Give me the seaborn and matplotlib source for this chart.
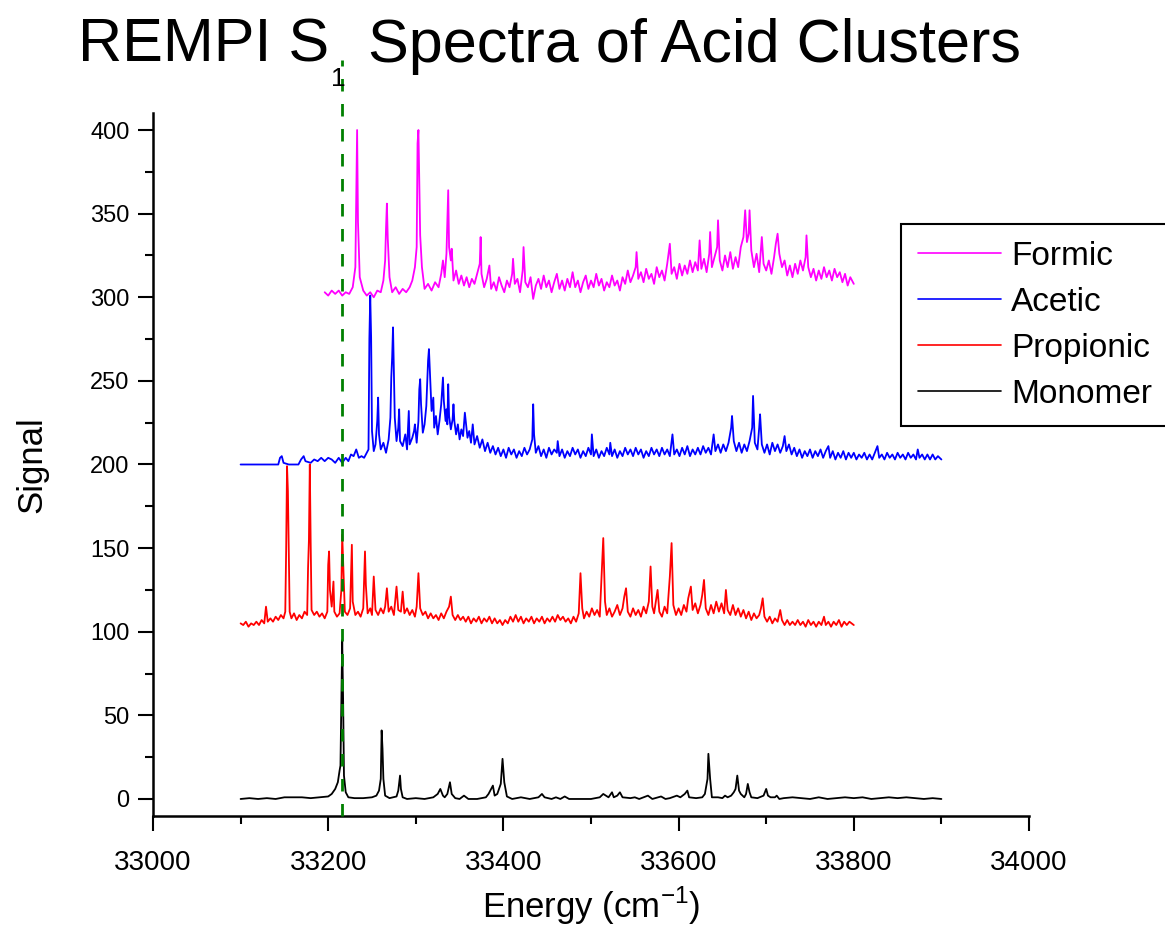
import numpy as np
import pandas as pd
import seaborn as sns
import matplotlib.pyplot as plt
from matplotlib.ticker import MultipleLocator

# REMPI S1 spectra (offset traces)
formic_x = [33196, 33200, 33204, 33208, 33212, 33216, 33220, 33224, 33228, 33231, 33232, 33233, 33234, 33236,
            33240, 33244, 33248, 33252, 33256, 33260, 33263, 33265, 33266, 33267, 33268, 33270, 33273, 33277,
            33281, 33285, 33289, 33293, 33296, 33299, 33301, 33302, 33303, 33304, 33305, 33307, 33310, 33314,
            33318, 33322, 33326, 33329, 33331, 33333, 33335, 33337, 33338, 33340, 33341, 33343, 33346, 33349,
            33352, 33355, 33358, 33361, 33364, 33367, 33370, 33373, 33374, 33375, 33378, 33381, 33384, 33386,
            33389, 33392, 33395, 33398, 33401, 33404, 33407, 33410, 33411, 33413, 33416, 33419, 33422, 33423,
            33425, 33428, 33431, 33434, 33437, 33440, 33443, 33446, 33449, 33452, 33455, 33458, 33461, 33464,
            33467, 33470, 33473, 33476, 33479, 33482, 33485, 33488, 33491, 33494, 33497, 33500, 33503, 33506,
            33509, 33512, 33515, 33518, 33521, 33524, 33527, 33530, 33533, 33536, 33539, 33542, 33545, 33548,
            33551, 33552, 33554, 33557, 33560, 33563, 33566, 33569, 33572, 33575, 33578, 33581, 33584, 33587,
            33590, 33592, 33595, 33598, 33601, 33604, 33607, 33610, 33613, 33616, 33619, 33622, 33624, 33626,
            33629, 33632, 33635, 33636, 33638, 33641, 33644, 33645, 33647, 33650, 33653, 33656, 33659, 33662,
            33665, 33668, 33671, 33674, 33676, 33678, 33680, 33681, 33683, 33686, 33689, 33692, 33695, 33697,
            33700, 33703, 33706, 33709, 33711, 33713, 33715, 33718, 33721, 33724, 33727, 33730, 33733, 33736,
            33739, 33742, 33745, 33746, 33748, 33751, 33754, 33757, 33760, 33763, 33766, 33769, 33772, 33775,
            33778, 33781, 33784, 33787, 33790, 33793, 33796, 33800]
formic_y = [303, 301, 304, 302, 304, 301, 303, 302, 306, 318, 360, 400, 345, 312,
            304, 301, 303, 300, 304, 303, 310, 322, 341, 356, 335, 312, 303, 306,
            302, 305, 303, 306, 310, 318, 330, 392, 400, 370, 337, 318, 305, 308,
            304, 309, 306, 314, 322, 312, 326, 364, 330, 322, 329, 310, 316, 308,
            313, 307, 312, 306, 311, 308, 314, 320, 336, 314, 306, 311, 319, 305,
            309, 304, 312, 307, 303, 310, 306, 314, 323, 308, 311, 303, 316, 330,
            309, 306, 312, 299, 307, 311, 305, 313, 306, 310, 303, 309, 314, 305,
            310, 304, 311, 306, 315, 306, 310, 303, 309, 313, 305, 310, 306, 314,
            307, 311, 304, 309, 306, 313, 307, 310, 304, 312, 308, 316, 309, 313,
            318, 327, 311, 315, 309, 317, 311, 314, 308, 318, 312, 316, 310, 320,
            332, 314, 318, 311, 320, 313, 319, 314, 322, 315, 321, 316, 334, 317,
            323, 315, 326, 339, 318, 324, 330, 346, 322, 316, 325, 318, 327, 317,
            324, 318, 330, 336, 352, 333, 338, 352, 328, 318, 326, 315, 336, 320,
            316, 322, 314, 324, 332, 338, 326, 318, 322, 313, 319, 312, 320, 314,
            322, 316, 324, 337, 318, 312, 317, 310, 316, 311, 318, 312, 316, 310,
            317, 312, 315, 309, 314, 307, 312, 308]

acetic_x = [33100, 33143, 33145, 33147, 33149, 33155, 33166, 33169, 33172, 33174, 33180, 33184, 33188, 33192,
            33196, 33200, 33204, 33208, 33212, 33216, 33220, 33223, 33226, 33229, 33232, 33235, 33238, 33241,
            33244, 33246, 33247, 33248, 33249, 33250, 33252, 33254, 33256, 33257, 33258, 33260, 33263, 33266,
            33269, 33271, 33272, 33273, 33274, 33275, 33276, 33278, 33280, 33281, 33282, 33285, 33288, 33290,
            33292, 33293, 33296, 33298, 33299, 33301, 33303, 33304, 33305, 33306, 33308, 33310, 33312, 33313,
            33314, 33315, 33316, 33318, 33320, 33321, 33323, 33325, 33327, 33329, 33330, 33331, 33332, 33334,
            33335, 33336, 33337, 33338, 33340, 33342, 33343, 33344, 33346, 33348, 33350, 33352, 33354, 33356,
            33357, 33359, 33361, 33363, 33365, 33367, 33370, 33373, 33376, 33379, 33382, 33385, 33388, 33391,
            33394, 33397, 33400, 33403, 33406, 33409, 33412, 33415, 33418, 33421, 33424, 33427, 33430, 33433,
            33434, 33435, 33437, 33440, 33443, 33446, 33449, 33452, 33455, 33458, 33461, 33462, 33464, 33467,
            33470, 33473, 33476, 33479, 33482, 33485, 33488, 33491, 33494, 33497, 33500, 33501, 33503, 33506,
            33509, 33512, 33515, 33518, 33521, 33522, 33524, 33527, 33530, 33533, 33536, 33539, 33542, 33545,
            33548, 33551, 33554, 33557, 33560, 33563, 33566, 33569, 33572, 33575, 33578, 33581, 33584, 33587,
            33590, 33593, 33595, 33598, 33601, 33604, 33607, 33610, 33613, 33616, 33619, 33622, 33625, 33628,
            33631, 33634, 33637, 33640, 33642, 33645, 33648, 33651, 33654, 33657, 33660, 33661, 33663, 33666,
            33669, 33672, 33675, 33678, 33681, 33684, 33685, 33687, 33690, 33692, 33693, 33695, 33698, 33701,
            33704, 33707, 33710, 33713, 33716, 33719, 33721, 33723, 33726, 33729, 33732, 33735, 33738, 33741,
            33744, 33747, 33750, 33753, 33756, 33759, 33762, 33765, 33768, 33771, 33773, 33776, 33779, 33782,
            33785, 33788, 33791, 33794, 33797, 33800, 33803, 33806, 33809, 33812, 33815, 33818, 33821, 33824,
            33827, 33829, 33832, 33835, 33838, 33841, 33844, 33847, 33850, 33853, 33856, 33859, 33862, 33865,
            33868, 33871, 33873, 33875, 33878, 33881, 33884, 33887, 33890, 33893, 33896, 33900]
acetic_y = [200, 200, 204, 205, 201, 200, 200, 203, 205, 202, 201, 203, 202, 204,
            202, 204, 203, 201, 204, 201, 204, 202, 206, 205, 209, 204, 205, 204,
            207, 209, 275, 301, 276, 220, 208, 212, 226, 240, 218, 209, 213, 207,
            215, 228, 252, 264, 282, 256, 228, 214, 222, 233, 214, 211, 218, 209,
            232, 212, 216, 220, 224, 213, 226, 245, 251, 236, 219, 224, 235, 248,
            262, 269, 257, 232, 240, 222, 229, 218, 226, 236, 244, 252, 238, 226,
            233, 224, 248, 229, 221, 227, 236, 226, 218, 224, 215, 221, 217, 231,
            226, 216, 220, 213, 224, 212, 217, 210, 215, 208, 213, 207, 211, 206,
            210, 205, 209, 204, 210, 206, 209, 204, 208, 205, 210, 206, 209, 215,
            236, 218, 207, 211, 205, 209, 204, 210, 206, 209, 207, 214, 205, 209,
            204, 208, 205, 210, 206, 209, 204, 208, 205, 210, 206, 218, 205, 209,
            204, 208, 205, 210, 206, 213, 205, 209, 204, 208, 205, 210, 206, 209,
            205, 210, 206, 209, 204, 208, 205, 210, 206, 209, 205, 210, 206, 209,
            205, 218, 206, 209, 205, 210, 206, 211, 205, 209, 206, 210, 206, 211,
            207, 210, 206, 218, 208, 212, 207, 212, 208, 213, 222, 229, 214, 208,
            213, 207, 212, 208, 214, 222, 241, 213, 209, 222, 230, 212, 207, 212,
            206, 213, 208, 212, 207, 211, 217, 208, 212, 206, 210, 205, 209, 204,
            208, 205, 209, 204, 208, 205, 209, 204, 208, 211, 204, 208, 203, 207,
            204, 208, 203, 207, 204, 207, 203, 206, 204, 207, 203, 206, 203, 207,
            211, 204, 206, 203, 207, 204, 206, 203, 207, 204, 206, 203, 207, 204,
            206, 203, 209, 204, 206, 203, 206, 203, 206, 203, 205, 203]

propionic_x = [33100, 33103, 33106, 33109, 33112, 33115, 33118, 33121, 33124, 33127, 33129, 33131, 33134, 33137,
               33140, 33143, 33146, 33149, 33151, 33152, 33153, 33154, 33155, 33156, 33158, 33161, 33164, 33167,
               33170, 33173, 33176, 33177, 33178, 33179, 33180, 33181, 33184, 33187, 33190, 33193, 33196, 33199,
               33200, 33201, 33202, 33204, 33206, 33207, 33210, 33213, 33215, 33216, 33217, 33219, 33222, 33225,
               33227, 33228, 33231, 33234, 33237, 33240, 33242, 33243, 33245, 33248, 33250, 33252, 33254, 33257,
               33260, 33263, 33265, 33267, 33269, 33272, 33275, 33278, 33280, 33283, 33285, 33287, 33290, 33293,
               33296, 33299, 33301, 33303, 33305, 33308, 33311, 33314, 33317, 33320, 33323, 33326, 33329, 33332,
               33335, 33338, 33340, 33342, 33345, 33348, 33351, 33354, 33357, 33360, 33363, 33366, 33369, 33372,
               33375, 33378, 33381, 33384, 33387, 33390, 33393, 33396, 33399, 33402, 33405, 33408, 33411, 33414,
               33417, 33420, 33423, 33426, 33429, 33432, 33435, 33438, 33441, 33444, 33447, 33450, 33453, 33456,
               33459, 33462, 33465, 33468, 33471, 33474, 33477, 33480, 33483, 33486, 33488, 33490, 33492, 33495,
               33498, 33501, 33504, 33507, 33510, 33512, 33514, 33516, 33518, 33521, 33524, 33527, 33530, 33533,
               33536, 33538, 33540, 33542, 33545, 33548, 33551, 33554, 33557, 33560, 33563, 33566, 33568, 33570,
               33572, 33574, 33576, 33578, 33581, 33584, 33587, 33590, 33592, 33594, 33597, 33600, 33603, 33606,
               33609, 33611, 33614, 33616, 33619, 33622, 33625, 33627, 33629, 33631, 33634, 33637, 33640, 33643,
               33646, 33649, 33652, 33654, 33656, 33659, 33662, 33665, 33668, 33671, 33674, 33677, 33680, 33683,
               33686, 33689, 33692, 33694, 33696, 33698, 33701, 33704, 33707, 33710, 33713, 33716, 33718, 33721,
               33724, 33727, 33730, 33733, 33736, 33739, 33742, 33745, 33748, 33751, 33754, 33757, 33760, 33763,
               33766, 33768, 33771, 33774, 33777, 33780, 33783, 33786, 33789, 33792, 33795, 33800]
propionic_y = [105, 104, 106, 103, 105, 104, 106, 104, 107, 105, 115, 106, 108, 106,
               109, 107, 110, 108, 112, 149, 199, 184, 150, 112, 108, 111, 107, 110,
               108, 112, 110, 138, 155, 200, 153, 113, 110, 112, 109, 111, 108, 112,
               140, 148, 125, 115, 130, 112, 109, 111, 125, 158, 143, 112, 110, 114,
               152, 118, 110, 112, 109, 114, 148, 128, 111, 114, 110, 133, 113, 110,
               114, 111, 115, 126, 112, 115, 110, 127, 113, 112, 124, 111, 114, 110,
               113, 109, 115, 135, 114, 110, 112, 108, 111, 108, 110, 107, 111, 108,
               112, 115, 121, 110, 107, 110, 107, 109, 106, 109, 105, 108, 106, 109,
               105, 108, 106, 109, 105, 108, 105, 107, 104, 107, 105, 109, 106, 110,
               106, 109, 105, 108, 106, 109, 105, 108, 106, 109, 105, 108, 106, 109,
               106, 110, 107, 109, 106, 108, 105, 109, 106, 111, 135, 114, 108, 112,
               109, 114, 110, 113, 109, 132, 156, 118, 110, 114, 109, 112, 116, 110,
               114, 121, 126, 112, 109, 114, 110, 113, 109, 115, 111, 118, 139, 115,
               111, 118, 125, 112, 109, 115, 111, 133, 153, 116, 110, 114, 110, 116,
               112, 120, 127, 113, 117, 111, 116, 122, 131, 114, 110, 116, 111, 118,
               112, 117, 111, 125, 113, 110, 116, 110, 114, 109, 113, 108, 112, 107,
               111, 108, 110, 114, 120, 109, 106, 109, 105, 108, 106, 113, 107, 104,
               107, 104, 106, 104, 107, 104, 106, 103, 107, 104, 106, 103, 106, 104,
               109, 104, 106, 103, 106, 104, 107, 103, 106, 104, 106, 104]

monomer_x = [33100, 33110, 33120, 33130, 33140, 33150, 33160, 33170, 33180, 33190, 33200, 33204, 33208, 33211,
             33213, 33214, 33215, 33216, 33217, 33218, 33220, 33223, 33230, 33240, 33250, 33255, 33258, 33260,
             33261, 33262, 33263, 33265, 33270, 33278, 33280, 33282, 33283, 33285, 33290, 33300, 33310, 33320,
             33325, 33328, 33331, 33333, 33336, 33339, 33341, 33345, 33350, 33355, 33360, 33370, 33380, 33383,
             33386, 33388, 33390, 33393, 33397, 33399, 33401, 33404, 33410, 33420, 33430, 33440, 33444, 33447,
             33455, 33460, 33465, 33470, 33475, 33480, 33500, 33510, 33514, 33517, 33520, 33524, 33526, 33530,
             33533, 33536, 33545, 33550, 33555, 33560, 33565, 33570, 33580, 33585, 33590, 33598, 33602, 33607,
             33610, 33612, 33620, 33627, 33630, 33633, 33634, 33636, 33638, 33645, 33650, 33653, 33656, 33660,
             33663, 33665, 33667, 33669, 33671, 33675, 33677, 33679, 33681, 33683, 33690, 33697, 33700, 33702,
             33705, 33710, 33712, 33715, 33720, 33730, 33740, 33750, 33760, 33770, 33780, 33790, 33800, 33810,
             33820, 33830, 33840, 33850, 33860, 33870, 33880, 33890, 33900]
monomer_y = [0, 0.5, 0, 0.5, 0, 1, 1, 1, 0.5, 1, 1.5, 3, 6, 10,
             17, 20, 60, 95, 60, 14, 4, 1, 0.5, 0.5, 1, 2, 5, 12,
             41, 30, 12, 2, 0.5, 1.5, 5, 14, 6, 1, 0, 0.5, 0, 1,
             3, 6, 2, 1, 3, 10, 3, 0.5, 0, 2, 0, 0, 1, 3,
             6, 8, 2, 3, 9, 24, 10, 1.5, 0, 1, 0, 1, 3, 1,
             0, 1, 0, 1.5, 0, 0, 0, 1, 3, 2, 1, 4, 1, 2,
             4, 1, 0.5, 1, 0, 1, 2, 0, 1.5, 0, 0.5, 2, 1, 3,
             5, 1, 0.5, 1, 3, 12, 27, 12, 1, 1, 0.5, 2, 1, 2,
             4, 6, 14, 5, 3, 1, 3, 9, 4, 1, 0.5, 2, 6, 2,
             1, 1, 2, 0, 0.5, 1, 0.5, 0, 1, 0, 0.5, 1, 0.5, 1,
             0, 0.5, 1, 0.5, 1, 0.5, 0, 0.5, 0]

series_names = ['Formic', 'Acetic', 'Propionic', 'Monomer']
series_colors = ['#FF00FF', '#0000FF', '#FF0000', '#000000']
origin_line = 33216

frames = []
for name, xs, ys in zip(series_names,
                        [formic_x, acetic_x, propionic_x, monomer_x],
                        [formic_y, acetic_y, propionic_y, monomer_y]):
    frames.append(pd.DataFrame({'energy': xs, 'signal': ys, 'acid': name}))
df = pd.concat(frames, ignore_index=True)

sns.set_style('ticks')
plt.rcParams['font.family'] = ['Liberation Sans', 'DejaVu Sans']
plt.rcParams['mathtext.fontset'] = 'custom'
plt.rcParams['mathtext.rm'] = 'Liberation Sans'
plt.rcParams['text.color'] = 'black'
plt.rcParams['axes.labelcolor'] = 'black'
plt.rcParams['xtick.color'] = 'black'
plt.rcParams['ytick.color'] = 'black'

W, H = 1165, 932
fig = plt.figure(figsize=(W / 100, H / 100), dpi=100)
ax = fig.add_axes([153 / W, 1 - 815.7 / H, (1029 - 153) / W, (815.7 - 113.3) / H])

sns.lineplot(data=df, x='energy', y='signal', hue='acid', hue_order=series_names,
             palette=dict(zip(series_names, series_colors)), estimator=None, sort=False,
             linewidth=1.3, ax=ax, legend=False)

ax.plot([origin_line, origin_line], [-10, 442], color='#008000', linewidth=2.0,
        dashes=(4.5, 4.5), clip_on=False, zorder=5)

ax.set_xlim(33000, 34000)
ax.set_ylim(-10, 410)
ax.xaxis.set_major_locator(MultipleLocator(200))
ax.xaxis.set_minor_locator(MultipleLocator(100))
ax.yaxis.set_major_locator(MultipleLocator(50))
ax.yaxis.set_minor_locator(MultipleLocator(25))
ax.tick_params(axis='both', which='major', direction='out', length=11, width=1.5, color='black')
ax.tick_params(axis='both', which='minor', direction='out', length=6, width=1.5, color='black')
ax.tick_params(axis='x', which='major', labelsize=20, pad=14, labelcolor='black')
ax.tick_params(axis='y', which='major', labelsize=17, pad=6, labelcolor='black')
for s in ['top', 'right']:
    ax.spines[s].set_visible(False)
for s in ['left', 'bottom']:
    ax.spines[s].set_linewidth(1.8)
    ax.spines[s].set_color('black')

ax.set_xlabel(r'Energy (cm$^{\mathregular{-1}}$)', fontsize=25, labelpad=6, color='black')
ax.set_ylabel('Signal', fontsize=25, color='black')
ax.yaxis.set_label_coords(-0.12, 0.5)

handles = [plt.Line2D([], [], color=c, linewidth=1.2) for c in series_colors]
leg = fig.legend(handles, series_names, loc='upper left', bbox_to_anchor=(901 / W, 1 - 224 / H),
                 fontsize=24, frameon=True, fancybox=False, framealpha=1, edgecolor='black',
                 handlelength=2.5, handletextpad=0.3, labelspacing=0.45, borderpad=0.5,
                 borderaxespad=0)
leg.get_frame().set_linewidth(1.5)
for t in leg.get_texts():
    t.set_color('black')

# title with a lowered subscript
fig.canvas.draw()
r = fig.canvas.get_renderer()
t1 = fig.text(78 / W, 1 - 62 / H, 'REMPI S', fontsize=44, va='baseline', color='black')
b1 = t1.get_window_extent(r)
t2 = fig.text((b1.x1 + 2) / W, 1 - 86 / H, '1', fontsize=19, va='baseline', color='black')
b2 = t2.get_window_extent(r)
fig.text((b2.x1 + 22) / W, 1 - 62 / H, 'Spectra of Acid Clusters', fontsize=44, va='baseline',
         color='black')

fig.savefig('out.png', dpi=100)
